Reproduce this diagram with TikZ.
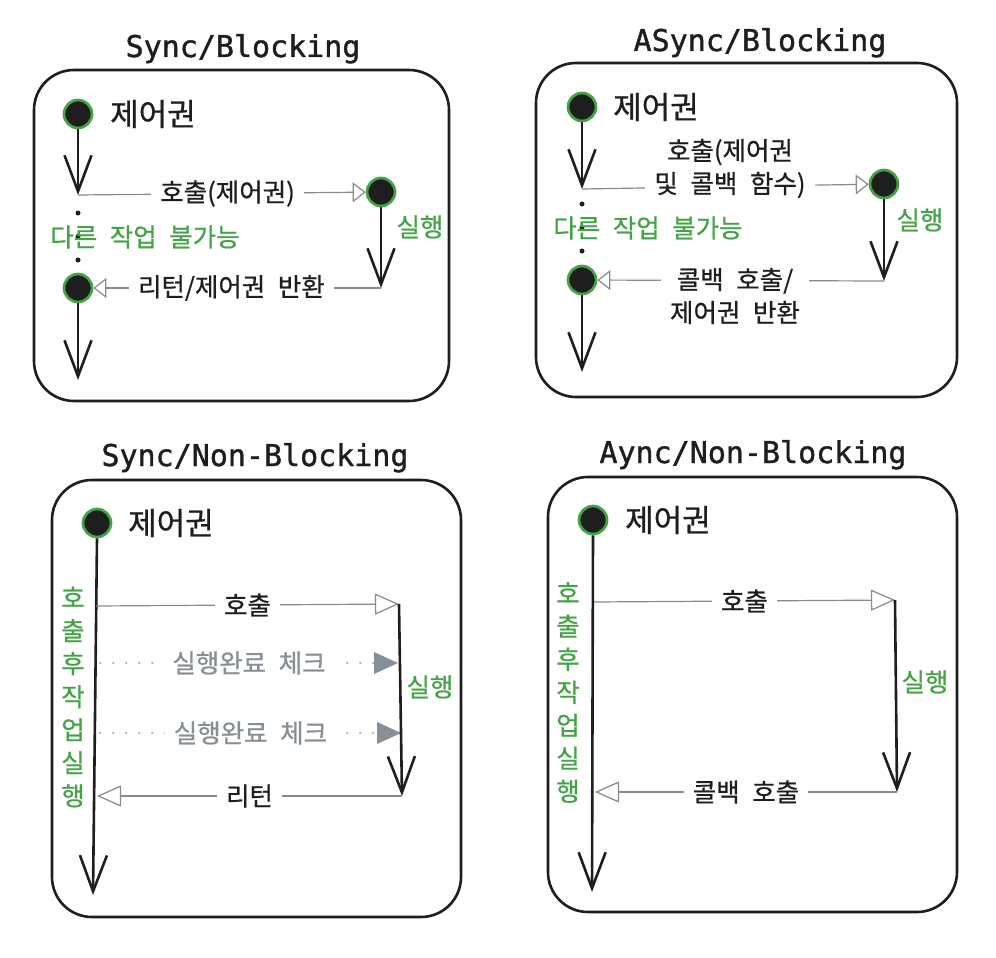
\documentclass[tikz,border=0pt]{standalone}
\usepackage{fontspec}
\setmonofont{DejaVu Sans Mono}[FakeBold=1.2]
\newfontfamily\kr{Noto Sans CJK KR}[WordSpace=2.2, FakeBold=0.7]
\usetikzlibrary{arrows.meta}
\definecolor{ink}{HTML}{1E1E1E}
\definecolor{grn}{HTML}{43A346}
\definecolor{gry}{HTML}{868E96}
\definecolor{thin}{HTML}{8A8A8A}
\tikzset{
  frame/.style={draw=ink, line width=2.6pt, rounded corners=40pt},
  ttl/.style={font=\ttfamily\fontsize{30}{30}\selectfont, text=ink, inner sep=0pt, anchor=base},
  dotnode/.style={circle, fill=ink, draw=grn, line width=2.7pt, minimum size=28pt, inner sep=0pt},
  big/.style={font=\kr\fontsize{31}{31}\selectfont, text=ink, anchor=west, inner sep=0pt},
  lbl/.style={font=\kr\fontsize{25.5}{33}\selectfont, text=ink, fill=white, inner xsep=9pt, inner ysep=2pt, align=center},
  glbl/.style={font=\kr\fontsize{25.5}{33}\selectfont, text=grn, inner sep=0pt, align=center},
  chk/.style={font=\kr\fontsize{25.5}{33}\selectfont, text=gry, fill=white, inner xsep=9pt, inner ysep=2pt},
  flow/.style={draw=ink, line width=2.6pt, -{Straight Barb[length=36pt,width=27pt]}},
  callA/.style={draw=thin, line width=1.2pt, -{Triangle[open, length=13pt, width=20pt, fill=white]}},
  callB/.style={draw=thin, line width=1.2pt, -{Triangle[open, length=24pt, width=21pt, fill=white]}},
  dotsv/.style={draw=ink, line width=5pt, line cap=round, dash pattern=on 0pt off 23.5pt},
  check/.style={draw=gry!80, line width=1.8pt, line cap=round, dash pattern=on 0.5pt off 12.5pt, -{Triangle[length=24pt, width=22pt, fill=gry, line width=0pt]}},
}
\begin{document}
\begin{tikzpicture}[x=1pt,y=-1pt]
\useasboundingbox (0,0) rectangle (996,958);
\fill[white] (0,0) rectangle (996,958);

% ---------- frames and titles
\draw[frame] (34,70) rectangle (449,401);
\draw[frame] (536,63) rectangle (957,397);
\draw[frame] (52,480) rectangle (461,917);
\draw[frame] (548,477) rectangle (957,912);
\node[ttl] (tA) at (243,57) {Sync/Blocking};
\node[ttl] (tB) at (760,51) {ASync/Blocking};
\node[ttl] (tC) at (255,466) {Sync/Non-Blocking};
\node[ttl] (tD) at (753,463) {Aync/Non-Blocking};

% ---------- Sync/Blocking
\node[dotnode] (a1) at (78,114) {};
\node[big] (a1t) at (110,114) {제어권};
\node[dotnode] (a2) at (381,192) {};
\node[dotnode] (a3) at (78,288) {};
\coordinate (aj) at (78,195);
\coordinate (ar) at (381,288);
\coordinate (ae) at (78,380);
\draw[dotsv, dash phase=5.5pt] (aj) -- (a3.north);
\draw[flow] (a1.south) -- (aj);
\draw[callA] (aj) -- node[lbl, pos=0.52] (aL1) {호출(제어권)} (a2);
\draw[flow] (a2.south) -- (ar);
\draw[callA] (ar) -- node[lbl, pos=0.52] (aL2) {리턴/제어권 반환} (a3);
\draw[flow] (a3.south) -- (ae);
\node[glbl] (aG1) at (145,237) {다른 작업 불가능};
\node[glbl] (aG2) at (420,227) {실행};

% ---------- ASync/Blocking
\node[dotnode] (b1) at (582,107) {};
\node[big] (b1t) at (613,107) {제어권};
\node[dotnode] (b2) at (884,184) {};
\node[dotnode] (b3) at (582,280) {};
\coordinate (bj) at (582,189);
\coordinate (br) at (884,281);
\coordinate (be) at (582,372);
\draw[dotsv, dash phase=8.5pt] (bj) -- (b3.north);
\draw[flow] (b1.south) -- (bj);
\draw[callA] (bj) -- (b2);
\draw[flow] (b2.south) -- (br);
\draw[callA] (br) -- (b3);
\draw[flow] (b3.south) -- (be);
\node[lbl] (bL1) at (730,168.5) {호출(제어권\\및 콜백 함수)};
\node[lbl] (bL2) at (735,296) {콜백 호출/\\제어권 반환};
\node[glbl] (bG1) at (648,228) {다른 작업 불가능};
\node[glbl] (bG2) at (920,220) {실행};

% ---------- Sync/Non-Blocking
\node[dotnode] (c1) at (97,523) {};
\node[big] (c1t) at (128,523) {제어권};
\coordinate (ce) at (93,895);
\coordinate (cs) at (96,606);
\coordinate (cr1) at (399,604);
\coordinate (cr2) at (402,796);
\coordinate (cl) at (97,796);
\coordinate (k1s) at (100,663);
\coordinate (k1e) at (398,663);
\coordinate (k2s) at (100,733);
\coordinate (k2e) at (401,733);
\draw[flow] (c1.south) -- (ce);
\draw[callB] (cs) -- node[lbl, pos=0.5] (cL1) {호출} (cr1);
\draw[check] (k1s) -- node[chk, pos=0.5] (cK1) {실행완료 체크} (k1e);
\draw[check] (k2s) -- node[chk, pos=0.5] (cK2) {실행완료 체크} (k2e);
\draw[flow] (cr1) -- (cr2);
\draw[callB] (cr2) -- node[lbl, pos=0.5] (cL2) {리턴} (cl);
\node[glbl] (cG1) at (73,697) {호\\출\\후\\작\\업\\실\\행};
\node[glbl] (cG2) at (430,687) {실행};

% ---------- Aync/Non-Blocking
\node[dotnode] (d1) at (593,520) {};
\node[big] (d1t) at (625,520) {제어권};
\coordinate (de) at (592,892);
\coordinate (ds) at (594,602);
\coordinate (dr1) at (895,600);
\coordinate (dr2) at (897,792);
\coordinate (dl) at (595,792);
\draw[flow] (d1.south) -- (de);
\draw[callB] (ds) -- node[lbl, pos=0.5] (dL1) {호출} (dr1);
\draw[flow] (dr1) -- (dr2);
\draw[callB] (dr2) -- node[lbl, pos=0.5] (dL2) {콜백 호출} (dl);
\node[glbl] (dG1) at (568,692.5) {호\\출\\후\\작\\업\\실\\행};
\node[glbl] (dG2) at (925,682) {실행};
\end{tikzpicture}
\end{document}
